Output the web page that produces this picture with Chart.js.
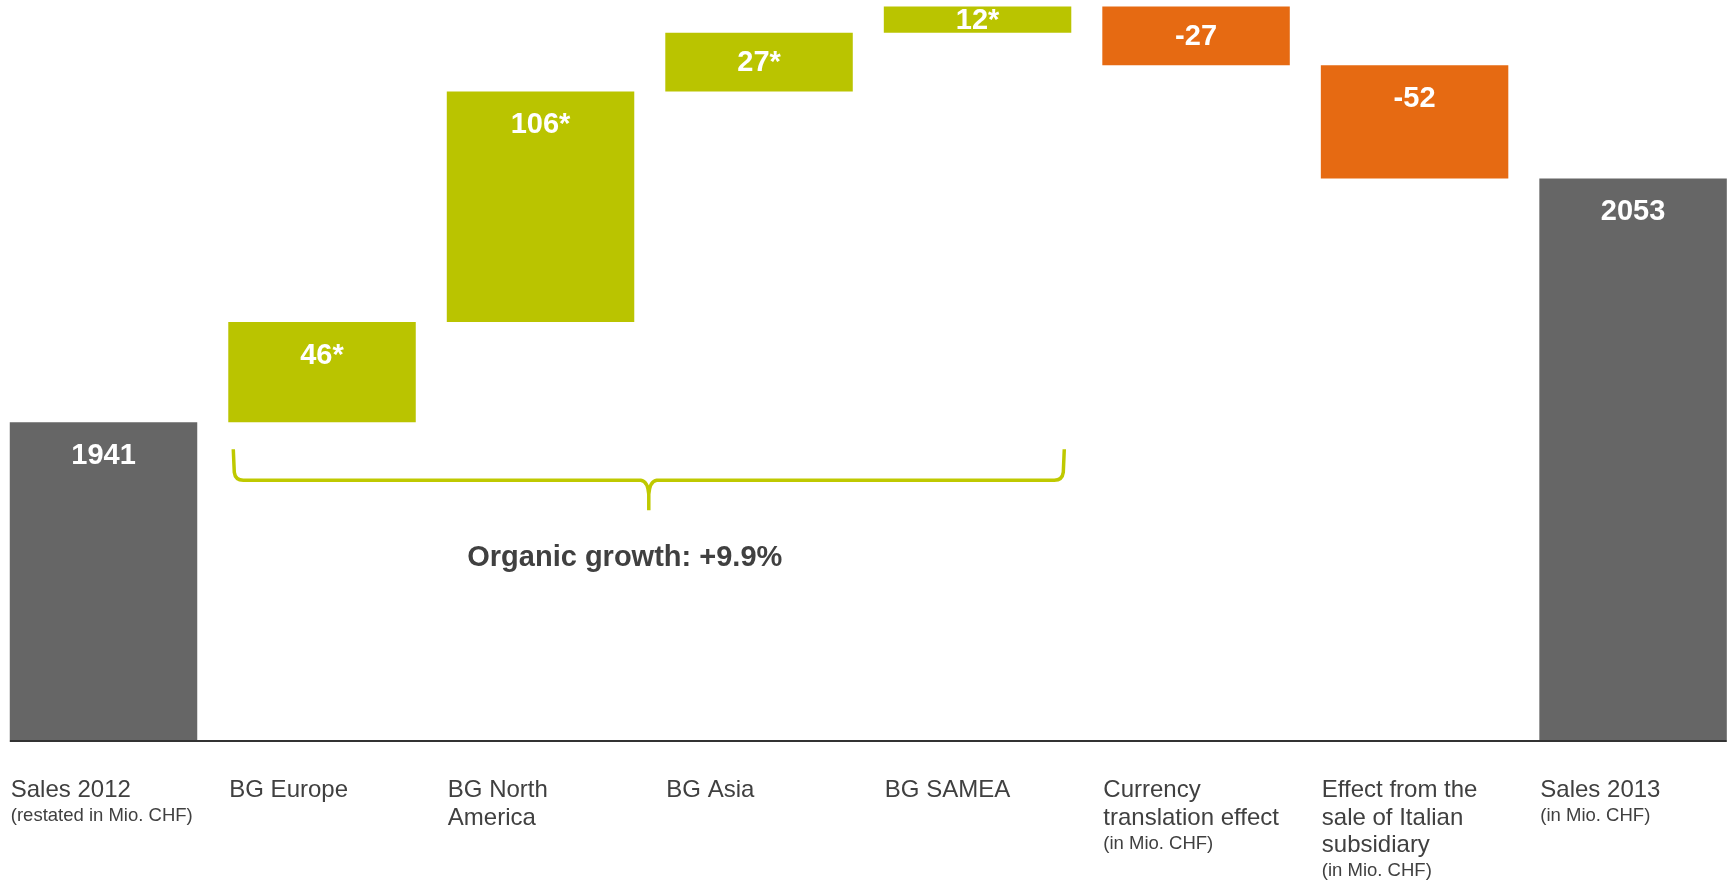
<!DOCTYPE html>
<html>
<head>
<meta charset="utf-8">
<title>Sales bridge 2012 - 2013</title>
<script src="https://cdn.jsdelivr.net/npm/chart.js@4/dist/chart.umd.min.js"></script>
<style>
  html, body { margin: 0; padding: 0; background: #ffffff; overflow: hidden; }
  #wrap { position: relative; width: 1729px; height: 883px; }
</style>
</head>
<body>
<div id="wrap"><canvas id="bridge"></canvas></div>
<script>
// categories (one entry per bar, line breaks as in the slide)
const categoryLines = [
  ['Sales 2012'],
  ['BG Europe'],
  ['BG North', 'America'],
  ['BG Asia'],
  ['BG SAMEA'],
  ['Currency', 'translation effect'],
  ['Effect from the', 'sale of Italian', 'subsidiary'],
  ['Sales 2013']
];
const categoryNotes = ['(restated in Mio. CHF)', '', '', '', '', '(in Mio. CHF)', '(in Mio. CHF)', '(in Mio. CHF)'];

// values in Mio. CHF
const values = [1941, 46, 106, 27, 12, -27, -52, 2053];
const valueLabels = ['1941', '46*', '106*', '27*', '12*', '-27', '-52', '2053'];
const kinds = ['total', 'organic', 'organic', 'organic', 'organic', 'other', 'other', 'total'];

const organicText = 'Organic growth: +9.9%';

const yMin = 1795;
const yMax = 2135;

const colors = { total: '#666666', organic: '#bac400', other: '#e66a12' };
const fontFamily = '"Liberation Sans", Arial, Helvetica, sans-serif';

// build the floating bars (waterfall)
var running = 0;
var barData = [];
for (var i = 0; i < values.length; i++) {
  var v = values[i];
  if (kinds[i] === 'total') {
    barData.push({ x: i, y: [yMin, v] });
    running = v;
  } else {
    barData.push({ x: i, y: [running, running + v] });
    running = running + v;
  }
}
var barColors = kinds.map(function (k) { return colors[k]; });

// white value labels inside the bars
const valueLabelPlugin = {
  id: 'valueLabels',
  afterDatasetsDraw(chart) {
    const ctx = chart.ctx;
    const meta = chart.getDatasetMeta(0);
    ctx.save();
    ctx.fillStyle = '#ffffff';
    ctx.font = 'bold 29px ' + fontFamily;
    ctx.textAlign = 'center';
    ctx.textBaseline = 'middle';
    meta.data.forEach(function (bar, i) {
      var top = Math.min(bar.y, bar.base);
      var h = Math.abs(bar.base - bar.y);
      var cy = top + Math.min(33, h / 2);
      ctx.fillText(valueLabels[i], bar.x, cy + 1);
    });
    ctx.restore();
  }
};

// base line, category texts, brace and organic growth note
const decorPlugin = {
  id: 'decor',
  afterDraw(chart) {
    const ctx = chart.ctx;
    const area = chart.chartArea;
    const meta = chart.getDatasetMeta(0);
    const bars = meta.data;
    const yScale = chart.scales.y;

    // axis line
    ctx.save();
    ctx.strokeStyle = '#333333';
    ctx.lineWidth = 2;
    ctx.beginPath();
    ctx.moveTo(bars[0].x - bars[0].width / 2, area.bottom + 1);
    ctx.lineTo(bars[7].x + bars[7].width / 2, area.bottom + 1);
    ctx.stroke();

    // category labels, left aligned with the bars
    ctx.fillStyle = '#404040';
    ctx.textAlign = 'left';
    ctx.textBaseline = 'alphabetic';
    bars.forEach(function (bar, i) {
      var x = bar.x - bar.width / 2 + 1;
      var y = area.bottom + 57;
      ctx.font = '24px ' + fontFamily;
      categoryLines[i].forEach(function (line, j) {
        ctx.fillText(line, x, y + j * 27.5);
      });
      if (categoryNotes[i]) {
        ctx.font = '18.5px ' + fontFamily;
        ctx.fillText(categoryNotes[i], x, y + (categoryLines[i].length - 1) * 27.5 + 24);
      }
    });

    // brace under the organic growth bars
    var x1 = bars[1].x - bars[1].width / 2 + 5;
    var x2 = bars[4].x + bars[4].width / 2 - 7;
    var mid = (x1 + x2) / 2;
    var yTop = yScale.getPixelForValue(values[0]) + 27;
    var yH = yTop + 31;
    var yTip = yTop + 61;
    ctx.strokeStyle = '#bfc900';
    ctx.lineWidth = 3.5;
    ctx.lineJoin = 'round';
    ctx.beginPath();
    ctx.moveTo(x1, yTop);
    ctx.lineTo(x1 + 1, yH - 8);
    ctx.quadraticCurveTo(x1 + 2, yH, x1 + 10, yH);
    ctx.lineTo(mid - 8, yH);
    ctx.quadraticCurveTo(mid - 1, yH + 1, mid, yH + 14);
    ctx.lineTo(mid, yTip);
    ctx.moveTo(mid, yH + 14);
    ctx.quadraticCurveTo(mid + 1, yH + 1, mid + 8, yH);
    ctx.lineTo(x2 - 10, yH);
    ctx.quadraticCurveTo(x2 - 2, yH, x2 - 1, yH - 8);
    ctx.lineTo(x2, yTop);
    ctx.stroke();

    ctx.fillStyle = '#404040';
    ctx.font = 'bold 29px ' + fontFamily;
    ctx.textAlign = 'center';
    ctx.fillText(organicText, mid - 24, yTip + 56);
    ctx.restore();
  }
};

var ctx = document.getElementById('bridge');
var bridge = new Chart(ctx, {
  type: 'bar',
  data: {
    datasets: [{
      label: 'Sales',
      data: barData,
      backgroundColor: barColors,
      borderWidth: 0,
      categoryPercentage: 1,
      barPercentage: 0.858
    }]
  },
  options: {
    responsive: true,
    maintainAspectRatio: false,
    animation: false,
    layout: { padding: { top: 0, right: 0, bottom: 143, left: 0 } },
    plugins: {
      legend: { display: false },
      tooltip: { enabled: false }
    },
    scales: {
      x: {
        type: 'linear', display: false, offset: false,
        min: -0.4737, max: 7.439,
        ticks: { stepSize: 1, includeBounds: false }
      },
      y: { display: false, min: yMin, max: yMax }
    }
  },
  plugins: [valueLabelPlugin, decorPlugin]
});
</script>
</body>
</html>
